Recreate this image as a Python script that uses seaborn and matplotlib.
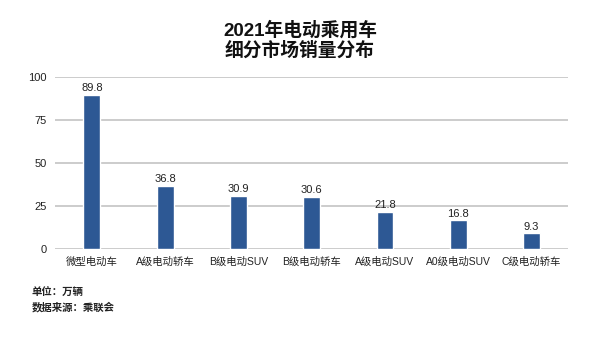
import matplotlib
matplotlib.use("Agg")
import matplotlib.pyplot as plt
import seaborn as sns
import pandas as pd

categories = ["微型电动车", "A级电动轿车", "B级电动SUV", "B级电动轿车", "A级电动SUV", "A0级电动SUV", "C级电动轿车"]
sales = [89.8, 36.8, 30.9, 30.6, 21.8, 16.8, 9.3]
yticks = [0, 25, 50, 75, 100]

sns.set_theme(style="white")
plt.rcParams["font.family"] = ["Liberation Sans", "Noto Sans CJK SC", "DejaVu Sans"]

df = pd.DataFrame({"segment": categories, "sales": sales})

fig = plt.figure(figsize=(6, 3.38), dpi=100)
ax = fig.add_axes([0.092, 0.262, 0.855, 0.51])

sns.barplot(data=df, x="segment", y="sales", color="#2d5894", width=0.23,
            saturation=1, ax=ax, zorder=3)

ax.set_ylim(0, 100)
ax.set_yticks(yticks)
ax.set_xlim(-0.5, len(categories) - 0.5)
ax.yaxis.grid(True, color="#c4c4c4", linewidth=1.2, zorder=0)
ax.set_axisbelow(True)
for s in ax.spines.values():
    s.set_visible(False)
ax.set_xlabel("")
ax.set_ylabel("")
ax.tick_params(axis="both", length=0, labelsize=8, colors="#222222")
ax.tick_params(axis="x", labelsize=7.5, pad=5)
ax.tick_params(axis="y", pad=6)

for i, v in enumerate(sales):
    ax.text(i, v + 1.0, f"{v}", ha="center", va="bottom", fontsize=8, color="#222222")

fig.text(0.5, 0.91, "2021年电动乘用车", ha="center", va="center",
         fontsize=13.5, fontweight="bold", color="#111111")
fig.text(0.5, 0.85, "细分市场销量分布", ha="center", va="center",
         fontsize=13.5, fontweight="bold", color="#111111")

fig.text(0.053, 0.133, "单位：万辆", ha="left", va="center",
         fontsize=7.5, fontweight="bold", color="#222222")
fig.text(0.053, 0.092, "数据来源：乘联会", ha="left", va="center",
         fontsize=7.5, fontweight="bold", color="#222222")

fig.savefig("out.png", dpi=100)
